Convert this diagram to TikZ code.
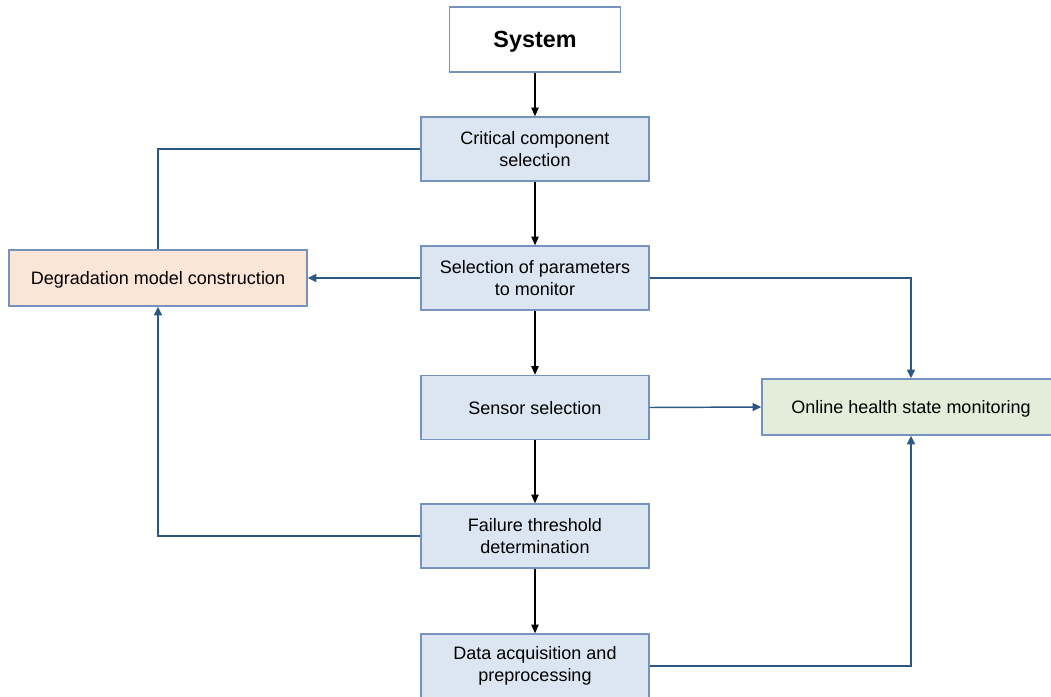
\documentclass[tikz,border=0pt]{standalone}
\usepackage{fontspec}
\setmainfont{Liberation Sans}
\usetikzlibrary{arrows.meta}
\definecolor{boxline}{HTML}{7593BD}
\definecolor{stepfill}{HTML}{DCE6F2}
\definecolor{modelfill}{HTML}{FBE5D6}
\definecolor{monfill}{HTML}{E3EEDA}
\definecolor{link}{HTML}{2A5783}
\begin{document}
\begin{tikzpicture}[x=0.75pt,y=-0.75pt,
  box/.style={draw=boxline,line width=1.1pt,rectangle,inner sep=0pt,
    align=center,font=\fontsize{13.5pt}{16.7pt}\selectfont,text=black},
  oneline/.style={text height=10.2pt,text depth=0pt},
  stepbox/.style={box,fill=stepfill,minimum width=171pt,minimum height=48pt},
  sidebox/.style={box,oneline,minimum width=223.5pt,minimum height=42pt},
  flow/.style={draw=black,line width=0.9pt,-{Triangle[length=6.5pt,width=5.5pt]}},
  feed/.style={draw=link,line width=1.1pt},
  feedarrow/.style={feed,-{Triangle[length=6.5pt,width=6pt]}}]
\useasboundingbox (0,0) rectangle (1051,697);

% main chain
\node[box,fill=white,minimum width=128pt,minimum height=49pt,
  text height=12.4pt,text depth=0pt,
  font=\fontsize{17.5pt}{20pt}\selectfont\bfseries] (sys) at (535,39.5) {System};
\node[stepbox] (crit) at (535,149) {Critical component\\selection};
\node[stepbox] (param) at (535,278) {Selection of parameters\\to monitor};
\node[stepbox,oneline] (sens) at (535,407.5) {Sensor selection};
\node[stepbox] (fail) at (535,536) {Failure threshold\\determination};
\node[stepbox] (data) at (535,666) {Data acquisition and\\preprocessing};

% side boxes
\node[sidebox,fill=modelfill] (degr) at (158,278) {Degradation model construction};
\node[sidebox,fill=monfill] (mon) at (911,407) {Online health state monitoring};

% vertical flow
\draw[flow] (sys) -- (crit);
\draw[flow] (crit) -- (param);
\draw[flow] (param) -- (sens);
\draw[flow] (sens) -- (fail);
\draw[flow] (fail) -- (data);

% links to the degradation model
\draw[feed] (crit.west) -| (degr.north);
\draw[feedarrow] (param.west) -- (degr.east);
\draw[feedarrow] (fail.west) -| (degr.south);

% links to health monitoring
\draw[feedarrow] (param.east) -| (mon.north);
\draw[feedarrow] (sens.east) -- (mon.west);
\draw[feedarrow] (data.east) -| (mon.south);
\end{tikzpicture}
\end{document}
